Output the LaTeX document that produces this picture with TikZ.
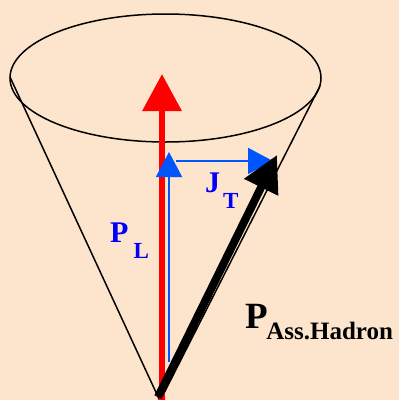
\documentclass[tikz,border=0pt]{standalone}
\usepackage{fontspec}
\setmainfont{Liberation Serif}
\usetikzlibrary{arrows.meta}
\definecolor{bgpeach}{RGB}{253,229,205}
\definecolor{arrblue}{RGB}{0,85,255}
\definecolor{txtblue}{RGB}{0,0,250}

\begin{document}
\begin{tikzpicture}[x=1pt, y=-1pt,
          lbl/.style={inner sep=0pt, anchor=base west},
          rim/.style={draw=black, line width=1.5pt},
          redarr/.style={draw=red, line width=6.5pt, -{Triangle[length=37pt, width=38pt]}},
          bluearr/.style={draw=arrblue, line width=2pt, -{Triangle[length=25pt, width=26pt]}},
          blkarr/.style={draw=black, line width=8pt, -{Triangle[length=36pt, width=36pt]}}]
        \fill[bgpeach] (0,0) rectangle (399,400);
        \useasboundingbox (0,0) rectangle (399,400);
        % cone
        \coordinate (apex) at (160,401);
        \coordinate (rimL) at (10,77);
        \coordinate (rimR) at (320,86);
        \draw[rim] (165.5,78) ellipse [x radius=155.5pt, y radius=64pt];
        \draw[rim] (rimL) -- (apex) -- (rimR);
        % momenta
        \coordinate (pbase) at (162,403);
        \coordinate (ptip) at (162,74);
        \coordinate (lbase) at (169,362);
        \coordinate (ltip) at (169,152);
        \coordinate (tbase) at (176,161);
        \coordinate (ttip) at (273,161);
        \coordinate (hbase) at (158,397);
        \coordinate (htip) at (277,155);
        \draw[redarr] (pbase) -- (ptip);
        \draw[bluearr] (lbase) -- (ltip);
        \draw[bluearr] (tbase) -- (ttip);
        \draw[blkarr] (hbase) -- (htip);
        % labels
        \node[lbl, text=txtblue, font=\fontsize{30}{30}\selectfont\bfseries] (pl) at (110,242)
          {P\hspace{5pt}\raisebox{-16pt}{\fontsize{23}{23}\selectfont L}};
        \node[lbl, text=txtblue, font=\fontsize{30}{30}\selectfont\bfseries] (jt) at (205,192)
          {J\hspace{3pt}\raisebox{-16pt}{\fontsize{23}{23}\selectfont T}};
        \node[lbl, font=\fontsize{37}{37}\selectfont\bfseries] (ph) at (245,328)
          {P\hspace{-1.5pt}\raisebox{-11pt}{\fontsize{25}{25}\selectfont Ass.Hadron}};
      \end{tikzpicture}
\end{document}
